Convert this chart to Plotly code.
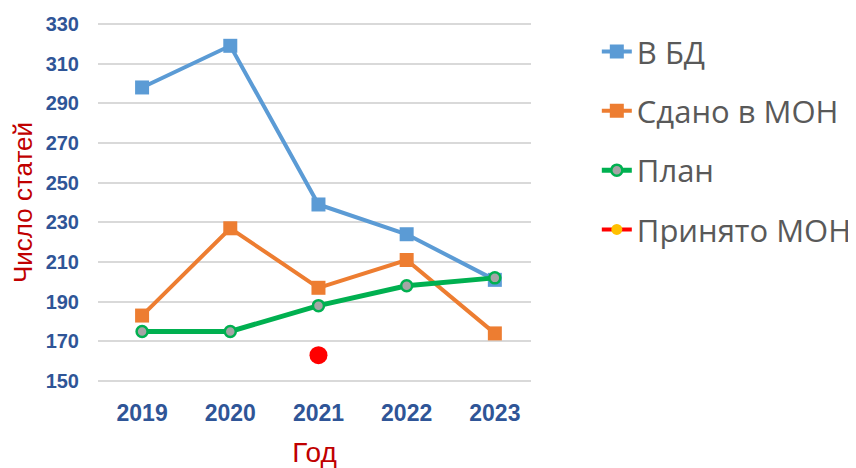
import plotly.graph_objects as go

years = ["2019", "2020", "2021", "2022", "2023"]
v_bd = [298, 319, 239, 224, 201]
v_sdano = [183, 227, 197, 211, 174]
v_plan = [175, 175, 188, 198, 202]
prinyato_years = ["2021"]
v_prinyato = [163]
y_ticks = [150, 170, 190, 210, 230, 250, 270, 290, 310, 330]

fig = go.Figure()
fig.add_trace(go.Scatter(x=years, y=v_bd, name="В БД", mode="lines+markers",
                         line=dict(color="#5B9BD5", width=4),
                         marker=dict(symbol="square", size=14, color="#5B9BD5"),
                         legendgroup="a"))
fig.add_trace(go.Scatter(x=years, y=v_sdano, name="Сдано в МОН", mode="lines+markers",
                         line=dict(color="#ED7D31", width=4),
                         marker=dict(symbol="square", size=14, color="#ED7D31"),
                         legendgroup="b"))
fig.add_trace(go.Scatter(x=years, y=v_plan, name="План", mode="lines+markers",
                         line=dict(color="#00B050", width=5),
                         marker=dict(symbol="circle", size=11, color="#A5A5A5",
                                     line=dict(color="#00B050", width=2.5)),
                         legendgroup="c"))
fig.add_trace(go.Scatter(x=prinyato_years, y=v_prinyato, name="Принято МОН", mode="markers",
                         marker=dict(symbol="circle", size=18, color="#FF0000"),
                         showlegend=False, legendgroup="d"))
fig.add_trace(go.Scatter(x=[None], y=[None], name="Принято МОН", mode="lines+markers",
                         line=dict(color="#FF0000", width=4),
                         marker=dict(symbol="circle", size=11, color="#FFC000"),
                         legendgroup="d"))

fig.update_layout(
    width=848, height=460,
    margin=dict(l=90, r=325, t=14, b=85, autoexpand=False),
    paper_bgcolor="white", plot_bgcolor="white",
    font=dict(family="Liberation Sans, Arial, sans-serif"),
    legend=dict(x=1.152, xanchor="left", y=0.992, yanchor="top",
                font=dict(size=31, color="#595959", family="Open Sans, sans-serif"),
                traceorder="grouped", tracegroupgap=16,
                bgcolor="rgba(0,0,0,0)"),
    xaxis=dict(type="category", range=[-0.5, 4.41], showgrid=False, showline=False,
               zeroline=False, ticks="", automargin=False,
               tickfont=dict(size=23, color="#2F5597", family="Liberation Sans, Arial, sans-serif", weight="bold"),
               ticklabelstandoff=14,
               title=dict(text="Год", font=dict(size=28, color="#C00000"), standoff=27)),
    yaxis=dict(range=[149, 331], tickvals=y_ticks, showgrid=True, gridcolor="#D9D9D9",
               gridwidth=1.5, zeroline=False, showline=False, ticks="", automargin=False,
               tickfont=dict(size=20, color="#2F5597", family="Liberation Sans, Arial, sans-serif", weight="bold"),
               ticklabelstandoff=18,
               title=dict(text="Число статей", font=dict(size=26, color="#C00000"), standoff=8)),
)
fig.write_html("out.html")
